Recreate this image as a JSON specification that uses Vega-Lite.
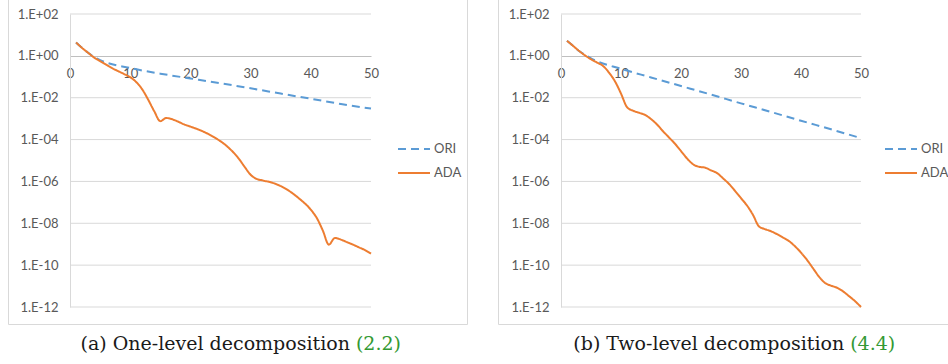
{
  "$schema": "https://vega.github.io/schema/vega-lite/v6.json",
  "padding": {"left": 7, "top": -3, "right": 0, "bottom": 0},
  "background": "white",
  "spacing": 29,
  "resolve": {
    "scale": {"color": "independent", "strokeDash": "independent", "x": "independent", "y": "independent"},
    "legend": {"color": "independent", "strokeDash": "independent"}
  },
  "config": {
    "view": {"stroke": "#d9d9d9", "strokeWidth": 1},
    "axis": {"labelFont": "Lato", "labelFontSize": 13, "labelColor": "#595959", "ticks": false, "grid": false, "title": null}
  },
  "datasets": {
    "grid": [{"g": 1e2}, {"g": 1e-2}, {"g": 1e-4}, {"g": 1e-6}, {"g": 1e-8}, {"g": 1e-10}, {"g": 1e-12}],
    "left": [
      {"s": "ORI", "x": 1, "y": 4.37}, {"s": "ORI", "x": 2, "y": 2.4}, {"s": "ORI", "x": 3, "y": 1.41},
      {"s": "ORI", "x": 4, "y": 0.9}, {"s": "ORI", "x": 5, "y": 0.631},
      {"s": "ORI", "x": 10, "y": 0.263}, {"s": "ORI", "x": 15, "y": 0.141}, {"s": "ORI", "x": 20, "y": 0.0832},
      {"s": "ORI", "x": 25, "y": 0.049}, {"s": "ORI", "x": 30, "y": 0.0282}, {"s": "ORI", "x": 35, "y": 0.0158},
      {"s": "ORI", "x": 40, "y": 0.00891}, {"s": "ORI", "x": 45, "y": 0.00501}, {"s": "ORI", "x": 50, "y": 0.00302},
      {"s": "ADA", "x": 1, "y": 4.37}, {"s": "ADA", "x": 2, "y": 2.4}, {"s": "ADA", "x": 3, "y": 1.41},
      {"s": "ADA", "x": 4, "y": 0.832}, {"s": "ADA", "x": 5, "y": 0.562}, {"s": "ADA", "x": 6, "y": 0.38},
      {"s": "ADA", "x": 7, "y": 0.257}, {"s": "ADA", "x": 8, "y": 0.186}, {"s": "ADA", "x": 9, "y": 0.135},
      {"s": "ADA", "x": 10, "y": 0.0955}, {"s": "ADA", "x": 11, "y": 0.0562}, {"s": "ADA", "x": 12, "y": 0.0251},
      {"s": "ADA", "x": 13, "y": 0.00794}, {"s": "ADA", "x": 14, "y": 0.00224}, {"s": "ADA", "x": 15, "y": 0.000759},
      {"s": "ADA", "x": 16, "y": 0.00107}, {"s": "ADA", "x": 17, "y": 0.000933}, {"s": "ADA", "x": 18, "y": 0.000708},
      {"s": "ADA", "x": 19, "y": 0.000525}, {"s": "ADA", "x": 20, "y": 0.000417}, {"s": "ADA", "x": 22, "y": 0.000251},
      {"s": "ADA", "x": 24, "y": 0.000126}, {"s": "ADA", "x": 26, "y": 5.01e-5}, {"s": "ADA", "x": 28, "y": 1.26e-5},
      {"s": "ADA", "x": 29, "y": 5.01e-6}, {"s": "ADA", "x": 30, "y": 2.09e-6}, {"s": "ADA", "x": 31, "y": 1.32e-6},
      {"s": "ADA", "x": 32, "y": 1.12e-6}, {"s": "ADA", "x": 34, "y": 7.94e-7}, {"s": "ADA", "x": 36, "y": 4.17e-7},
      {"s": "ADA", "x": 38, "y": 1.58e-7}, {"s": "ADA", "x": 40, "y": 4.47e-8}, {"s": "ADA", "x": 41, "y": 1.78e-8},
      {"s": "ADA", "x": 42, "y": 4.47e-9}, {"s": "ADA", "x": 43, "y": 9.55e-10}, {"s": "ADA", "x": 44, "y": 2.0e-9},
      {"s": "ADA", "x": 45, "y": 1.66e-9}, {"s": "ADA", "x": 46, "y": 1.26e-9}, {"s": "ADA", "x": 47, "y": 9.55e-10},
      {"s": "ADA", "x": 48, "y": 7.08e-10}, {"s": "ADA", "x": 49, "y": 5.25e-10}, {"s": "ADA", "x": 50, "y": 3.55e-10}
    ],
    "right": [
      {"s": "ORI", "x": 1, "y": 5.25}, {"s": "ORI", "x": 2, "y": 3.02}, {"s": "ORI", "x": 3, "y": 1.72},
      {"s": "ORI", "x": 4, "y": 1.12}, {"s": "ORI", "x": 5, "y": 0.759},
      {"s": "ORI", "x": 10, "y": 0.24}, {"s": "ORI", "x": 15, "y": 0.0933}, {"s": "ORI", "x": 20, "y": 0.0363},
      {"s": "ORI", "x": 25, "y": 0.0141}, {"s": "ORI", "x": 30, "y": 0.00537}, {"s": "ORI", "x": 35, "y": 0.00209},
      {"s": "ORI", "x": 40, "y": 0.000794}, {"s": "ORI", "x": 45, "y": 0.000309}, {"s": "ORI", "x": 50, "y": 0.000117},
      {"s": "ADA", "x": 1, "y": 5.25}, {"s": "ADA", "x": 2, "y": 3.02}, {"s": "ADA", "x": 3, "y": 1.74},
      {"s": "ADA", "x": 4, "y": 1.05}, {"s": "ADA", "x": 5, "y": 0.692}, {"s": "ADA", "x": 6, "y": 0.479},
      {"s": "ADA", "x": 7, "y": 0.331}, {"s": "ADA", "x": 8, "y": 0.158}, {"s": "ADA", "x": 9, "y": 0.0603},
      {"s": "ADA", "x": 10, "y": 0.0158}, {"s": "ADA", "x": 11, "y": 0.00355}, {"s": "ADA", "x": 12, "y": 0.0024},
      {"s": "ADA", "x": 13, "y": 0.00191}, {"s": "ADA", "x": 14, "y": 0.00151}, {"s": "ADA", "x": 15, "y": 0.000955},
      {"s": "ADA", "x": 16, "y": 0.000525}, {"s": "ADA", "x": 17, "y": 0.000251}, {"s": "ADA", "x": 18, "y": 0.000126},
      {"s": "ADA", "x": 19, "y": 6.31e-5}, {"s": "ADA", "x": 20, "y": 2.82e-5}, {"s": "ADA", "x": 21, "y": 1.26e-5},
      {"s": "ADA", "x": 22, "y": 6.61e-6}, {"s": "ADA", "x": 23, "y": 5.01e-6}, {"s": "ADA", "x": 24, "y": 4.57e-6},
      {"s": "ADA", "x": 25, "y": 3.39e-6}, {"s": "ADA", "x": 26, "y": 2.51e-6}, {"s": "ADA", "x": 27, "y": 1.41e-6},
      {"s": "ADA", "x": 28, "y": 7.59e-7}, {"s": "ADA", "x": 29, "y": 3.55e-7}, {"s": "ADA", "x": 30, "y": 1.58e-7},
      {"s": "ADA", "x": 31, "y": 7.08e-8}, {"s": "ADA", "x": 32, "y": 2.51e-8}, {"s": "ADA", "x": 33, "y": 7.08e-9},
      {"s": "ADA", "x": 34, "y": 5.25e-9}, {"s": "ADA", "x": 35, "y": 4.17e-9}, {"s": "ADA", "x": 36, "y": 3.02e-9},
      {"s": "ADA", "x": 37, "y": 2.09e-9}, {"s": "ADA", "x": 38, "y": 1.41e-9}, {"s": "ADA", "x": 39, "y": 7.94e-10},
      {"s": "ADA", "x": 40, "y": 3.98e-10}, {"s": "ADA", "x": 41, "y": 1.78e-10}, {"s": "ADA", "x": 42, "y": 7.08e-11},
      {"s": "ADA", "x": 43, "y": 2.82e-11}, {"s": "ADA", "x": 44, "y": 1.41e-11}, {"s": "ADA", "x": 45, "y": 1.05e-11},
      {"s": "ADA", "x": 46, "y": 8.32e-12}, {"s": "ADA", "x": 47, "y": 5.62e-12}, {"s": "ADA", "x": 48, "y": 3.31e-12},
      {"s": "ADA", "x": 49, "y": 1.91e-12}, {"s": "ADA", "x": 50, "y": 1.0e-12}
    ]
  },
  "hconcat": [
    {
      "width": 459,
      "height": 326,
      "layer": [
        {
          "data": {"name": "grid"},
          "mark": {"type": "rule", "color": "#d9d9d9", "strokeWidth": 1},
          "encoding": {
            "x": {"datum": 0, "type": "quantitative"},
            "x2": {"datum": 50},
            "y": {"field": "g", "type": "quantitative"}
          }
        },
        {
          "data": {"name": "left"},
          "mark": {"type": "line", "strokeWidth": 2, "interpolate": "monotone"},
          "encoding": {
            "x": {"field": "x", "type": "quantitative",
              "scale": {"domain": [0, 50], "range": [62, 363], "nice": false, "zero": false},
              "axis": {"title": null, "values": [0, 10, 20, 30, 40, 50], "orient": "bottom", "offset": -268, "labelPadding": 11, "domainColor": "#bfbfbf", "labelFlush": false}},
            "y": {"field": "y", "type": "quantitative",
              "scale": {"type": "log", "domain": [1e-12, 100], "range": [309, 16], "nice": false},
              "axis": {"title": null, "values": [100, 1, 0.01, 0.0001, 1e-6, 1e-8, 1e-10, 1e-12], "offset": -62, "labelPadding": 12, "domainColor": "#d9d9d9",
                "labelExpr": "'1.E' + (datum.value >= 1 ? '+' : '-') + (abs(round(log(datum.value)/LN10)) < 10 ? '0' : '') + abs(round(log(datum.value)/LN10))"}},
            "color": {"field": "s", "type": "nominal", "sort": ["ORI", "ADA"],
              "scale": {"domain": ["ORI", "ADA"], "range": ["#5B9BD5", "#ED7D31"]},
              "legend": {"orient": "none", "legendX": 389, "legendY": 134, "title": null, "symbolType": "stroke", "symbolSize": 1024, "symbolStrokeWidth": 2, "labelFont": "Lato", "labelFontSize": 13, "labelColor": "#595959", "labelOffset": 3, "rowPadding": -7, "padding": 0}},
            "strokeDash": {"field": "s", "type": "nominal", "sort": ["ORI", "ADA"],
              "scale": {"domain": ["ORI", "ADA"], "range": [[8, 5], [1, 0]]},
              "legend": {"orient": "none", "legendX": 389, "legendY": 134, "title": null, "symbolType": "stroke", "symbolSize": 1024, "symbolStrokeWidth": 2, "labelFont": "Lato", "labelFontSize": 13, "labelColor": "#595959", "labelOffset": 3, "rowPadding": -7, "padding": 0}}
          }
        },
        {
          "data": {"values": [{"t": "(a) One-level decomposition"}]},
          "mark": {"type": "text", "align": "right", "baseline": "alphabetic", "font": "DejaVu Serif", "fontSize": 19, "color": "#1a1a1a", "clip": false, "dx": -3},
          "encoding": {"x": {"datum": 47, "type": "quantitative"}, "y": {"datum": 9e-15, "type": "quantitative"}, "text": {"field": "t"}}
        },
        {
          "data": {"values": [{"t": "(2.2)"}]},
          "mark": {"type": "text", "align": "left", "baseline": "alphabetic", "font": "DejaVu Serif", "fontSize": 19, "color": "#339933", "clip": false, "dx": 3},
          "encoding": {"x": {"datum": 47, "type": "quantitative"}, "y": {"datum": 9e-15, "type": "quantitative"}, "text": {"field": "t"}}
        }
      ]
    },
    {
      "width": 470,
      "height": 326,
      "layer": [
        {
          "data": {"name": "grid"},
          "mark": {"type": "rule", "color": "#d9d9d9", "strokeWidth": 1},
          "encoding": {
            "x": {"datum": 0, "type": "quantitative"},
            "x2": {"datum": 50},
            "y": {"field": "g", "type": "quantitative"}
          }
        },
        {
          "data": {"name": "right"},
          "mark": {"type": "line", "strokeWidth": 2, "interpolate": "monotone"},
          "encoding": {
            "x": {"field": "x", "type": "quantitative",
              "scale": {"domain": [0, 50], "range": [63, 363], "nice": false, "zero": false},
              "axis": {"title": null, "values": [0, 10, 20, 30, 40, 50], "orient": "bottom", "offset": -268, "labelPadding": 11, "domainColor": "#bfbfbf", "labelFlush": false}},
            "y": {"field": "y", "type": "quantitative",
              "scale": {"type": "log", "domain": [1e-12, 100], "range": [309, 16], "nice": false},
              "axis": {"title": null, "values": [100, 1, 0.01, 0.0001, 1e-6, 1e-8, 1e-10, 1e-12], "offset": -63, "labelPadding": 12, "domainColor": "#d9d9d9",
                "labelExpr": "'1.E' + (datum.value >= 1 ? '+' : '-') + (abs(round(log(datum.value)/LN10)) < 10 ? '0' : '') + abs(round(log(datum.value)/LN10))"}},
            "color": {"field": "s", "type": "nominal", "sort": ["ORI", "ADA"],
              "scale": {"domain": ["ORI", "ADA"], "range": ["#5B9BD5", "#ED7D31"]},
              "legend": {"orient": "none", "legendX": 386, "legendY": 134, "title": null, "symbolType": "stroke", "symbolSize": 1024, "symbolStrokeWidth": 2, "labelFont": "Lato", "labelFontSize": 13, "labelColor": "#595959", "labelOffset": 3, "rowPadding": -7, "padding": 0}},
            "strokeDash": {"field": "s", "type": "nominal", "sort": ["ORI", "ADA"],
              "scale": {"domain": ["ORI", "ADA"], "range": [[8, 5], [1, 0]]},
              "legend": {"orient": "none", "legendX": 386, "legendY": 134, "title": null, "symbolType": "stroke", "symbolSize": 1024, "symbolStrokeWidth": 2, "labelFont": "Lato", "labelFontSize": 13, "labelColor": "#595959", "labelOffset": 3, "rowPadding": -7, "padding": 0}}
          }
        },
        {
          "data": {"values": [{"t": "(b) Two-level decomposition"}]},
          "mark": {"type": "text", "align": "right", "baseline": "alphabetic", "font": "DejaVu Serif", "fontSize": 19, "color": "#1a1a1a", "clip": false, "dx": -3},
          "encoding": {"x": {"datum": 47.7, "type": "quantitative"}, "y": {"datum": 9e-15, "type": "quantitative"}, "text": {"field": "t"}}
        },
        {
          "data": {"values": [{"t": "(4.4)"}]},
          "mark": {"type": "text", "align": "left", "baseline": "alphabetic", "font": "DejaVu Serif", "fontSize": 19, "color": "#339933", "clip": false, "dx": 3},
          "encoding": {"x": {"datum": 47.7, "type": "quantitative"}, "y": {"datum": 9e-15, "type": "quantitative"}, "text": {"field": "t"}}
        }
      ]
    }
  ]
}
